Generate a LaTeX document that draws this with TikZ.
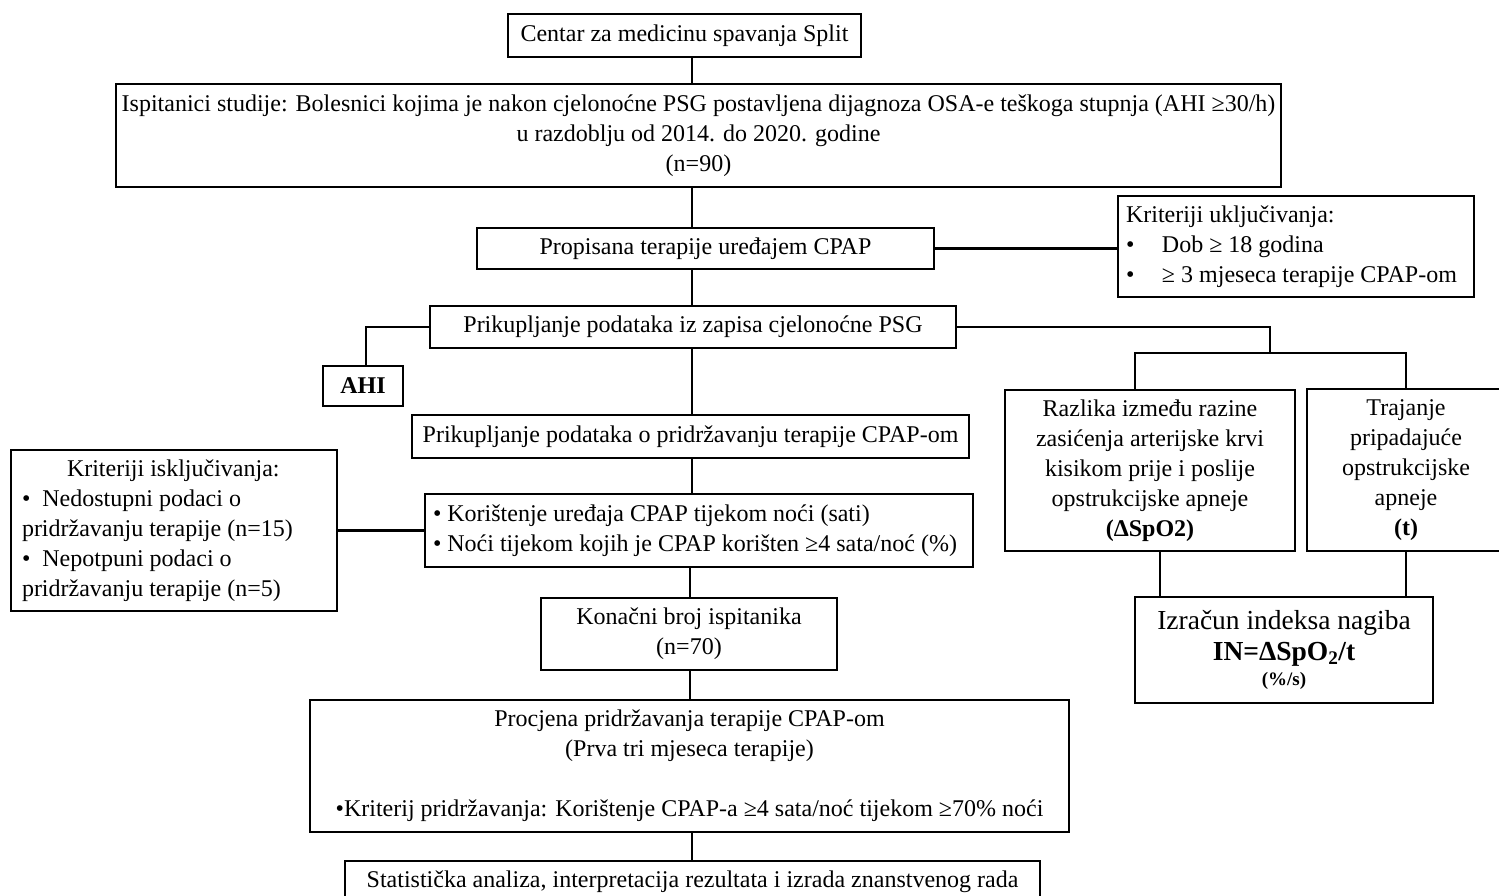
\documentclass[tikz,border=0pt]{standalone}
\usepackage{fontspec}
\setmainfont{Liberation Serif}
\usetikzlibrary{positioning}

\begin{document}
\begin{tikzpicture} [
    x = 1pt, y = -1pt,
    every node/.style = { font = \fontsize{24}{30}\selectfont },
    box/.style = { draw, line width = 1.6pt, inner sep = 0, align = center },
    listbox/.style = { box, align = flush left, inner xsep = 8pt },
    link/.style = { line width = 2.2pt }
    ]

    \useasboundingbox (0,0) rectangle (1499,896);
    \coordinate (spine) at (692,0);

    % glavni tok
    \node[box, minimum width = 353pt, minimum height = 43pt] (centar) at (684.5,35.5) {Centar za medicinu spavanja Split};
    \node[box, minimum width = 1165pt, minimum height = 103pt] (ispitanici) at (698.5,135.5)
        {Ispitanici studije: Bolesnici kojima je nakon cjelonoćne PSG postavljena dijagnoza OSA-e teškoga stupnja (AHI ≥30/h)\\
         u razdoblju od 2014. do 2020. godine\\ (n=90)};
    \node[box, minimum width = 457pt, minimum height = 41pt] (cpap) at (705.5,248.5) {Propisana terapije uređajem CPAP};
    \node[listbox, text width = 340pt, minimum height = 101pt] (ukljuc) at (1296,246.5)
        {Kriteriji uključivanja:\\
         \makebox[36pt][l]{•}Dob ≥ 18 godina\\
         \makebox[36pt][l]{•}≥ 3 mjeseca terapije CPAP-om};
    \node[box, minimum width = 526pt, minimum height = 42pt] (psg) at (693,327) {Prikupljanje podataka iz zapisa cjelonoćne PSG};
    \node[box, minimum width = 80pt, minimum height = 40pt] (ahi) at (363,386) {\textbf{AHI}};
    \node[box, minimum width = 557pt, minimum height = 43pt] (pridrz) at (690.5,436.5) {Prikupljanje podataka o pridržavanju terapije CPAP-om};
    \node[listbox, text width = 532pt, minimum height = 73pt] (koristenje) at (699,530.5)
        {• Korištenje uređaja CPAP tijekom noći (sati)\\
         • Noći tijekom kojih je CPAP korišten ≥4 sata/noć (\%)};
    \node[listbox, inner xsep = 11pt, text width = 304pt, minimum height = 161pt] (iskljuc) at (174,530.5)
        {\hspace*{45pt}Kriteriji isključivanja:\\
         •\ \ Nedostupni podaci o\\ pridržavanju terapije (n=15)\\
         •\ \ Nepotpuni podaci o\\ pridržavanju terapije (n=5)};
    \node[box, minimum width = 296pt, minimum height = 72pt] (konacni) at (689,634) {Konačni broj ispitanika\\ (n=70)};
    \node[box, minimum width = 759pt, minimum height = 132pt] (procjena) at (689.5,766)
        {Procjena pridržavanja terapije CPAP-om\\ (Prva tri mjeseca terapije)\\[30pt]
         •Kriterij pridržavanja: Korištenje CPAP-a ≥4 sata/noć tijekom ≥70\% noći};
    \node[box, minimum width = 695pt, minimum height = 60pt, anchor = north] (statistika) at (692.5,860) {};
    \node at (692.5,882) {Statistička analiza, interpretacija rezultata i izrada znanstvenog rada};

    % desna grana
    \node[box, minimum width = 290pt, minimum height = 161pt] (razlika) at (1150,470.5)
        {Razlika između razine\\ zasićenja arterijske krvi\\ kisikom prije i poslije\\ opstrukcijske apneje\\ \textbf{(ΔSpO2)}};
    \node[box, minimum width = 198pt, minimum height = 162pt] (trajanje) at (1406,470)
        {Trajanje\\ pripadajuće\\ opstrukcijske\\ apneje\\ \textbf{(t)}};
    \node[box, minimum width = 298pt, minimum height = 106pt, font = \fontsize{27.5}{33}\selectfont] (izracun) at (1284,650)
        {Izračun indeksa nagiba\\[-2pt] \textbf{IN=ΔSpO\textsubscript{2}/t}\\[-8pt] {\fontsize{19}{22}\selectfont\textbf{(\%/s)}}};
    \coordinate (split) at (1270,353);

    % veze
    \draw[link] (centar.south -| spine) -- (ispitanici.north -| spine);
    \draw[link] (ispitanici.south -| spine) -- (cpap.north -| spine);
    \draw[link] (cpap.east) -- (cpap.east -| ukljuc.west);
    \draw[link] (cpap.south -| spine) -- (psg.north -| spine);
    \draw[link] (psg.west) -| ([xshift=3pt]ahi.north);
    \draw[link] (psg.east) -| (split);
    \draw[link] ([xshift=-15pt]razlika.north) |- (split) -| (trajanje.north);
    \draw[link] ([xshift=10pt]razlika.south) -- ([xshift=10pt]razlika.south |- izracun.north);
    \draw[link] (trajanje.south) -- (trajanje.south |- izracun.north);
    \draw[link] (psg.south -| spine) -- (pridrz.north -| spine);
    \draw[link] (pridrz.south -| spine) -- (koristenje.north -| spine);
    \draw[link] (iskljuc.east) -- (koristenje.west);
    \draw[link] (koristenje.south) ++(-9,0) coordinate (k1) (k1) -- (k1 |- konacni.north);
    \draw[link] (konacni.south -| k1) -- (procjena.north -| k1);
    \draw[link] (procjena.south -| spine) -- (statistika.north -| spine);
\end{tikzpicture}
\end{document}
